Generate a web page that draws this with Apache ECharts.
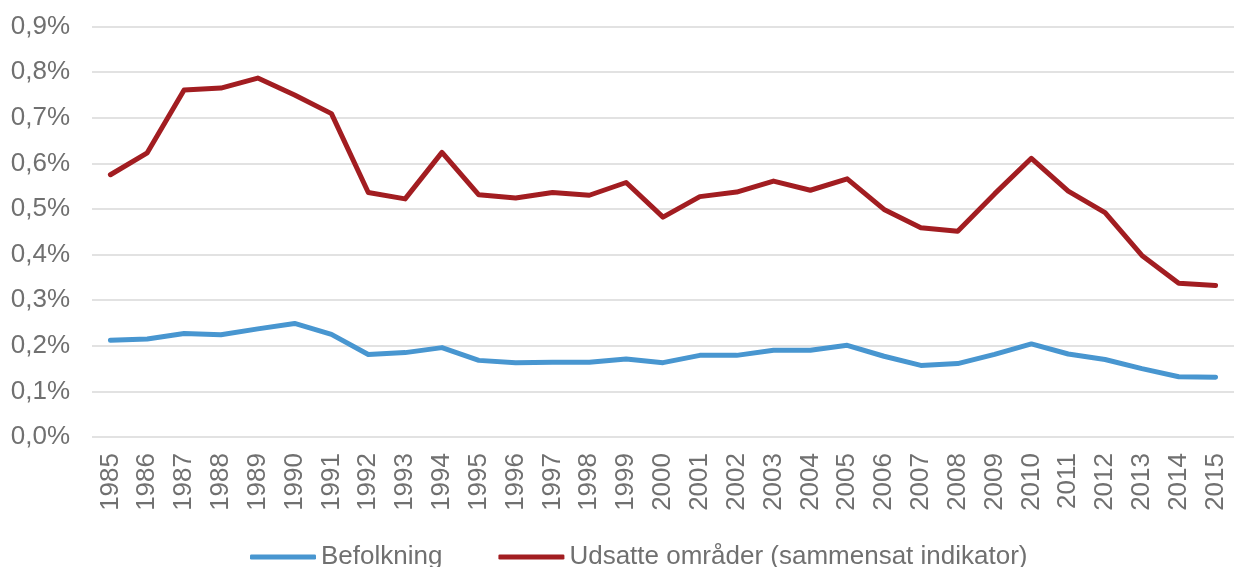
<!DOCTYPE html>
<html><head><meta charset="utf-8">
<script src="https://cdn.jsdelivr.net/npm/echarts@6/dist/echarts.min.js"></script>
<style>html,body{margin:0;padding:0;background:#fff}#c{width:1234px;height:567px}</style>
</head><body><div id="c"></div>
<script>
const years = ['1985','1986','1987','1988','1989','1990','1991','1992','1993','1994','1995','1996','1997','1998','1999','2000','2001','2002','2003','2004','2005','2006','2007','2008','2009','2010','2011','2012','2013','2014','2015'];
const befolkning = [0.212,0.215,0.227,0.224,0.237,0.249,0.225,0.181,0.185,0.196,0.168,0.163,0.164,0.164,0.171,0.163,0.179,0.179,0.190,0.190,0.201,0.177,0.157,0.161,0.181,0.204,0.182,0.170,0.150,0.132,0.131];
const udsatte = [0.575,0.623,0.761,0.765,0.787,0.750,0.709,0.536,0.522,0.624,0.531,0.524,0.536,0.530,0.558,0.482,0.527,0.537,0.561,0.541,0.566,0.499,0.459,0.451,0.533,0.611,0.539,0.492,0.398,0.337,0.332];
const seriesNames = ['Befolkning','Udsatte områder (sammensat indikator)'];

const chart = echarts.init(document.getElementById('c'), null, {renderer:'canvas'});
const font = 'Liberation Sans, Arial, sans-serif';
chart.setOption({
  animation:false,
  color:['#4896D0','#A21D21'],
  grid:{left:92,right:-7,top:26.5,bottom:130,containLabel:false},
  legend:{
    data:seriesNames, bottom:-8, left:245,
    itemWidth:66, itemHeight:5, itemGap:56, icon:'roundRect',
    textStyle:{fontFamily:font,fontSize:26,color:'#707070'}
  },
  xAxis:{
    type:'category', data:years, boundaryGap:true,
    axisLine:{show:false}, axisTick:{show:false},
    axisLabel:{rotate:90,margin:16,fontFamily:font,fontSize:26,color:'#707070',interval:0}
  },
  yAxis:{
    type:'value', min:0, max:0.9, interval:0.1,
    axisLine:{show:false}, axisTick:{show:false},
    splitLine:{lineStyle:{color:'#d9d9d9',width:1.5}},
    axisLabel:{margin:22,fontFamily:font,fontSize:26,color:'#707070',
      formatter:v=>v.toFixed(1).replace('.',',')+'%'}
  },
  series:[
    {name:seriesNames[0],type:'line',data:befolkning,symbol:'none',lineStyle:{width:5,cap:'round',join:'round'}},
    {name:seriesNames[1],type:'line',data:udsatte,symbol:'none',lineStyle:{width:5,cap:'round',join:'round'}}
  ]
});
</script></body></html>
